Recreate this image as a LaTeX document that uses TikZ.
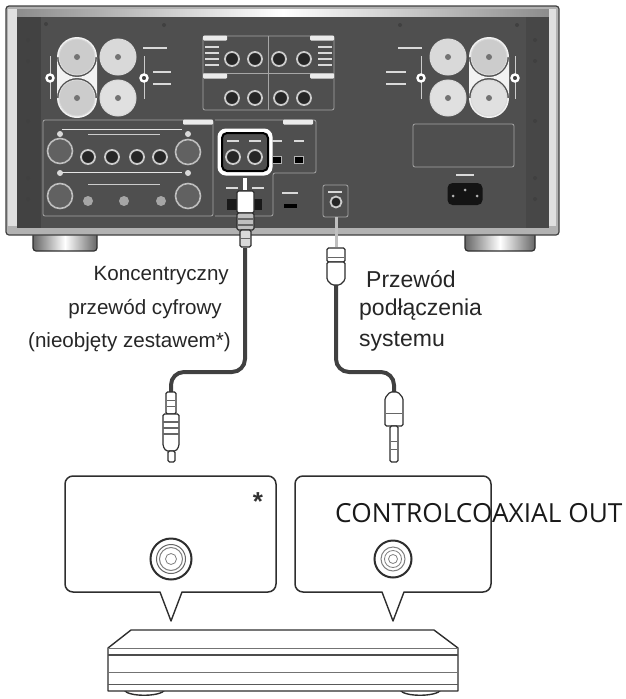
\documentclass[tikz,border=0pt]{standalone}
\usepackage{fontspec}
\setmainfont{Liberation Sans}
\newfontfamily\boxfont{Open Sans}
\usetikzlibrary{positioning}
\definecolor{panel}{gray}{.31}
\definecolor{cablegray}{gray}{.25}
\definecolor{linegray}{gray}{.18}
\tikzset{
  jack/.style={circle, draw=white!80!black, line width=1.8pt, fill=black!85, minimum size=#1, inner sep=0pt},
  jack/.default=14pt,
  post/.style={circle, draw=white!85!black, line width=1pt, fill=white!#1!black, minimum size=36pt, inner sep=0pt},
  post/.default=80,
  hub/.style={circle, fill=black!55, minimum size=6pt, inner sep=0pt},
  xlr/.style={circle, draw=white!75!black, line width=1.6pt, fill=black!62, minimum size=25pt, inner sep=0pt},
  flag/.style={circle, fill=white!85!black, minimum size=6pt, inner sep=0pt},
  knob/.style={circle, fill=white!65!black, minimum size=10pt, inner sep=0pt},
  ring/.style={circle, draw=white, line width=2.4pt, fill=black!75, minimum size=7pt, inner sep=0pt},
  tag/.style={fill=white!85!black, minimum width=#1, minimum height=2.5pt, inner sep=0pt},
  badge/.style={fill=white!92!black, minimum width=#1, minimum height=5pt, inner sep=0pt, rounded corners=1pt},
  frameline/.style={draw=white!65!black, line width=.8pt, rounded corners=2pt},
  cable/.style={draw=cablegray, line width=4pt, rounded corners=13pt},
  plug/.style={draw=linegray, line width=1.2pt, fill=white, rounded corners=1.5pt},
  callout/.style={draw=linegray, line width=1.5pt, rounded corners=8pt, fill=white, inner sep=0pt},
  sock/.style={circle, draw=linegray, inner sep=0pt, fill=white},
  body/.style={draw=linegray, line width=1.4pt, line join=round},
  caption/.style={font=\fontsize{#1}{#1}\selectfont, inner sep=0pt, text=black!85},
  foot/.style={left color=black!60, right color=black!60, middle color=white, draw=linegray, line width=1.2pt, rounded corners=3pt},
  screw/.style={circle, fill=black!75, minimum size=4pt, inner sep=0pt},
}
\begin{document}
\begin{tikzpicture}[x=1pt, y=-1pt]
\useasboundingbox (0,0) rectangle (626,699);

% feet
\shade[foot] (33,230) rectangle (97,251);
\shade[foot] (465,230) rectangle (535,251);

% amplifier
\fill[white!70!black, draw=black!75, line width=1.2pt, rounded corners=3pt] (6,6) rectangle (559,235);
\shade[left color=black!45, right color=black!45, middle color=white] (17,9) rectangle (549,17);
\fill[white!88!black] (8,9) rectangle (17,226);
\fill[white!88!black] (549,9) rectangle (556,226);
\fill[panel] (17,17) rectangle (549,228);
\fill[black!74] (17,17) rectangle (41,228);
\fill[black!72] (526,17) rectangle (549,228);

% screws
\node[screw] (sa) at (28,40){};
\node[screw] (sb) at (28,61){};
\node[screw] (sc) at (28,121){};
\node[screw] (sd) at (28,178){};
\node[screw] (se) at (28,199){};
\node[screw] (sf) at (535,40){};
\node[screw] (sg) at (535,61){};
\node[screw] (sh) at (535,121){};
\node[screw] (si) at (535,178){};
\node[screw] (sj) at (535,199){};
\node[screw] (sk) at (46,24){};
\node[screw] (sl) at (164,25){};
\node[screw] (sm) at (400,25){};
\node[screw] (sn) at (517,25){};

% speaker terminals
\fill[white!95!black] (77,57) circle (20) (77,98) circle (20) (57,57) rectangle (97,98);
\fill[white!95!black] (489,57) circle (20) (489,98) circle (20) (469,57) rectangle (509,98);
\node[post] (spa) at (77,57){};
\node[post] (spb) at (77,98){};
\node[post=85] (spc) at (118,57){};
\node[post=88] (spd) at (118,98){};
\node[post=85] (spe) at (448,57){};
\node[post=88] (spf) at (448,98){};
\node[post] (spg) at (489,57){};
\node[post=88] (sph) at (489,98){};
\node[hub] at (spa){};
\node[hub] at (spb){};
\node[hub] at (spc){};
\node[hub] at (spd){};
\node[hub] at (spe){};
\node[hub] at (spf){};
\node[hub] at (spg){};
\node[hub] at (sph){};

% small switches
\draw[white!80!black, line width=1pt] (50,56)--(50,99);
\draw[white!80!black, line width=1pt] (144,56)--(144,99);
\draw[white!80!black, line width=1pt] (421,56)--(421,99);
\draw[white!80!black, line width=1pt] (515,56)--(515,99);
\node[ring] (swa) at (50,78){};
\node[ring] (swb) at (144,78){};
\node[ring] (swc) at (421,78){};
\node[ring] (swd) at (515,78){};
\node[tag=24] (spka) at (155,48){};
\node[tag=24] (spkb) at (410,48){};
\node[tag=18] (spkc) at (162,72){};
\node[tag=18] (spkd) at (162,84){};
\node[tag=20] (spke) at (396,72){};
\node[tag=20] (spkf) at (396,84){};

% top panel
\draw[frameline] (203,36) rectangle (334,110);
\draw[frameline] (268,36)--(268,110);
\draw[frameline] (203,73)--(334,73);
\node[badge=24] (outa) at (215,76){};
\node[badge=24] (outb) at (322,76){};
\node[badge=24] (outc) at (215,38){};
\node[badge=24] (outd) at (322,38){};
\node[tag=14] at (212,47){};
\node[tag=14] at (212,53){};
\node[tag=14] at (212,59){};
\node[tag=14] at (212,65){};
\node[tag=14] at (325,47){};
\node[tag=14] at (325,53){};
\node[tag=14] at (325,59){};
\node[tag=14] at (325,65){};
\node[jack] (ja) at (232,59){};
\node[jack] (jb) at (255,59){};
\node[jack] (jc) at (279,59){};
\node[jack] (jd) at (304,59){};
\node[jack] (je) at (232,98){};
\node[jack] (jf) at (255,98){};
\node[jack] (jg) at (281,98){};
\node[jack] (jh) at (304,98){};

% lower left panel
\draw[frameline] (43,120) rectangle (213,216);
\node[badge=30] (inp) at (198,122){};
\node[xlr] (xa) at (60,151){};
\node[xlr] (xb) at (188,152){};
\node[xlr] (xc) at (60,196){};
\node[xlr] (xd) at (188,196){};
\node[flag] at (60,134){};
\node[flag] at (188,134){};
\node[flag] at (60,173){};
\node[flag] at (188,173){};
\node[jack] (ka) at (88,157){};
\node[jack] (kb) at (112,157){};
\node[jack] (kc) at (137,157){};
\node[jack] (kd) at (160,157){};
\node[knob] (na) at (88,201){};
\node[knob] (nb) at (124,201){};
\node[knob] (nc) at (161,201){};
\draw[white!90!black, line width=1pt] (62,129)--(182,129);
\draw[white!90!black, line width=1pt] (62,172)--(182,172);
\draw[white!80!black, line width=.7pt] (88,134)--(160,134);
\draw[white!80!black, line width=.7pt] (88,184)--(160,184);

% digital panel
\draw[frameline] (215,120) -- (316,120) -- (316,173) -- (273,173) -- (273,216) -- (215,216);
\node[badge=30] (dig) at (298,122){};
\draw[white, line width=5pt, rounded corners=6pt] (220,131) rectangle (270,173);
\draw[black, line width=2pt, rounded corners=5pt] (222,133) rectangle (268,171);
\node[tag=12] at (233,141){};
\node[tag=12] at (255,141){};
\node[tag=10] at (277,141){};
\node[tag=10] at (299,141){};
\node[jack] (coaxa) at (233,157){};
\node[jack] (coaxb) at (255,157){};
\node[fill=black, draw=white!70!black, minimum width=9pt, minimum height=7pt, inner sep=0pt] (opta) at (277,160){};
\node[fill=black, draw=white!70!black, minimum width=9pt, minimum height=7pt, inner sep=0pt] (optb) at (299,160){};
\node[fill=black, minimum width=13pt, minimum height=4pt, inner sep=0pt] (usb) at (290,206){};
\node[tag=16] at (290,193){};
\node[tag=12] at (232,188){};
\node[tag=12] at (258,188){};
\node[fill=black!90, minimum width=10pt, minimum height=11pt, inner sep=0pt] (hdmia) at (232,204){};
\node[fill=black!90, minimum width=10pt, minimum height=11pt, inner sep=0pt] (hdmib) at (257,204){};

% right rectangle, control socket, power inlet
\draw[frameline] (413,124) rectangle (514,167);
\draw[frameline] (323,185) rectangle (348,217);
\node[tag=14] (ctl) at (335,192){};
\node[jack=11pt] (ctrl) at (336,202){};
\node[fill=black!92, minimum width=35pt, minimum height=22pt, inner sep=0pt, rounded corners=5pt] (inlet) at (465,194){};
\node[circle, fill=white!70!black, minimum size=3pt, inner sep=0pt] at (453,196){};
\node[circle, fill=white!70!black, minimum size=3pt, inner sep=0pt] at (477,196){};
\node[circle, fill=white!70!black, minimum size=3pt, inner sep=0pt] at (465,190){};
\node[tag=18] (acin) at (465,175){};

% cables
\coordinate (cabtopa) at (245,248);
\coordinate (cabtopb) at (336,283);
\coordinate (cabbota) at (171,392);
\coordinate (cabbotb) at (394,392);
\draw[cable] (cabtopa) -- (245,372) -- (171,372) -- (cabbota);
\draw[cable] (cabtopb) -- (336,372) -- (394,372) -- (cabbotb);

% plugs on the amplifier
\node[fill=white, minimum width=4pt, minimum height=12pt, inner sep=0pt] (pina) at (245,184){};
\draw[plug, fill=white] (237,191) rectangle (254,213);
\draw[plug, fill=white!75!black] (237,213) rectangle (254,230);
\draw[plug, fill=white!85!black] (240,230) rectangle (251,247);
\draw[black!60, line width=1.4pt] (238,219)--(253,219);
\draw[black!60, line width=1.4pt] (238,225)--(253,225);
\draw[black!60, line width=1pt] (241,238)--(250,238);

\draw[draw=white!75!black, line width=3pt] (336,217)--(336,247);
\draw[plug] (327,248) rectangle (345,262);
\draw[plug] (327,262) -- (345,262) -- (345,280) -- (340,285) -- (332,285) -- (327,280) -- cycle;
\draw[black!60, line width=1pt] (328,257)--(344,257);

% plugs on the cables
\draw[plug] (166,392) rectangle (176,414);
\draw[plug, fill=white] (163,414) -- (179,414) -- (179,446) -- (176,451) -- (166,451) -- (163,446) -- cycle;
\draw[plug] (168,451) rectangle (175,462);
\draw[black!60, line width=1pt] (167,400)--(175,400);
\draw[black!60, line width=1pt] (167,406)--(175,406);
\draw[black!60, line width=1.2pt] (163,422)--(179,422);
\draw[black!60, line width=1.2pt] (163,428)--(179,428);
\draw[black!60, line width=1.2pt] (163,434)--(179,434);

\draw[plug] (390,392) -- (398,392) -- (403,398) -- (403,426) -- (385,426) -- (385,398) -- cycle;
\draw[black!60, line width=1pt] (386,413)--(402,413);
\draw[plug] (390,426) rectangle (398,462);
\draw[black!60, line width=1pt] (391,441)--(397,441);
\draw[black!60, line width=1pt] (391,449)--(397,449);

% labels
\node[caption=20.6, anchor=east] (kon) at (229,276){Koncentryczny};
\node[caption=20.6, anchor=east] (prz) at (222,309){przewód cyfrowy};
\node[caption=20.6, anchor=east] (nie) at (231,342){(nieobjęty zestawem*)};
\node[caption=23, anchor=west] (sysa) at (366,279){Przewód};
\node[caption=23, anchor=west] (sysb) at (359,310){podłączenia};
\node[caption=23, anchor=west] (sysc) at (359,341){systemu};

% callouts
\node[callout, minimum width=211pt, minimum height=116pt] (boxa) at (170.5,534){};
\node[callout, minimum width=196pt, minimum height=116pt] (boxb) at (393,534){};
\fill[white] (160,590)--(171,621)--(182,590)--cycle;
\fill[white] (382,590)--(393,621)--(404,590)--cycle;
\draw[body] (160,592)--(171,621)--(182,592);
\draw[body] (382,592)--(393,621)--(404,592);
\node[inner sep=0pt, font=\fontsize{26}{26}\selectfont\bfseries, text=black!80] (star) at (258,502){*};
\node[inner sep=0pt, anchor=west, font=\boxfont\fontsize{26.3}{27}\selectfont, text=black!90] (cname) at (335,513){CONTROLCOAXIAL OUT};

% sockets
\node[sock, line width=2pt, minimum size=41pt] (sa1) at (171,559){};
\node[sock, draw=black!60, line width=1pt, minimum size=29pt] at (sa1){};
\node[sock, draw=black!50, line width=1pt, minimum size=23pt] at (sa1){};
\node[sock, draw=black!50, line width=.8pt, minimum size=11pt] at (sa1){};
\node[sock, line width=2pt, minimum size=37pt] (sb1) at (393,559){};
\node[sock, draw=black!50, line width=1pt, minimum size=24pt] at (sb1){};
\node[sock, draw=black!50, line width=.8pt, minimum size=17pt] at (sb1){};
\node[sock, draw=black!50, line width=.8pt, minimum size=9pt] at (sb1){};

% device
\draw[body, fill=white] (124,690) .. controls (128,697) and (160,697) .. (165,690);
\draw[body, fill=white] (400,690) .. controls (404,697) and (436,697) .. (441,690);
\draw[body, fill=white] (131,630) -- (434,630) -- (458,648) -- (458,691) -- (108,691) -- (108,648) -- cycle;
\draw[black!55, line width=.8pt] (108,648)--(458,648);
\draw[black!70, line width=1.6pt] (108,655)--(458,655);
\draw[black!55, line width=.8pt] (108,672)--(458,672);
\draw[black!65, line width=1pt] (108,684)--(458,684);
\end{tikzpicture}
\end{document}
